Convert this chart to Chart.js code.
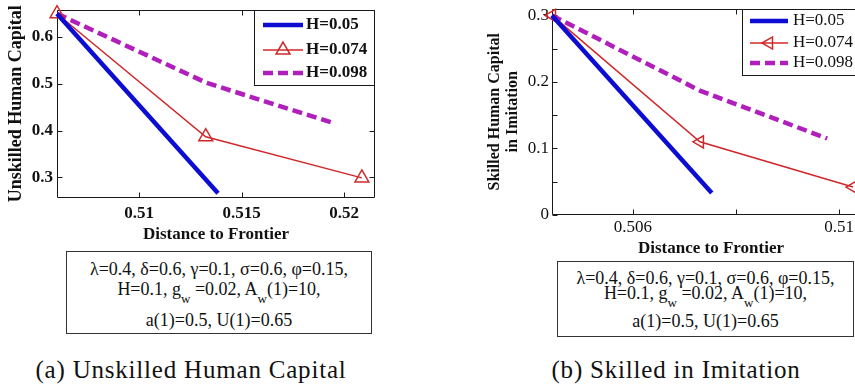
<!DOCTYPE html>
<html>
<head>
<meta charset="utf-8">
<script src="https://cdn.jsdelivr.net/npm/chart.js@4.4.1/dist/chart.umd.min.js"></script>
<style>
  html, body { margin: 0; padding: 0; background: #fff; }
  body { width: 855px; height: 389px; overflow: hidden; position: relative; font-family: 'Liberation Serif', 'Times New Roman', serif; color: #111; }
  canvas { position: absolute; top: 0; }
  #chartA { left: 0; }
  #chartB { left: 440px; }
  .params { position: absolute; box-sizing: border-box; border: 1px solid #333; background: #fff; }
  .params div { position: absolute; left: 0; right: 0; text-align: center; font-size: 18px; line-height: 20px; white-space: nowrap; }
  .sb { font-size: 13px; position: relative; top: 8px; }
  .caption { position: absolute; top: 355px; width: 400px; text-align: center; font-size: 25px; line-height: 30px; letter-spacing: 0.8px; white-space: nowrap; }
</style>
</head>
<body>
<canvas id="chartA" width="410" height="250"></canvas>
<canvas id="chartB" width="460" height="262"></canvas>

<div class="params" style="left:66px; top:251px; width:306px; height:83px;">
  <div style="top:7px;">λ=0.4, δ=0.6, γ=0.1, σ=0.6, φ=0.15,</div>
  <div style="top:27px;">H=0.1, g<span class="sb">w</span> =0.02, A<span class="sb">w</span>(1)=10,</div>
  <div style="top:58px;">a(1)=0.5, U(1)=0.65</div>
</div>
<div class="params" style="left:557px; top:261px; width:297px; height:76px;">
  <div style="top:6px;">λ=0.4, δ=0.6, γ=0.1, σ=0.6, φ=0.15,</div>
  <div style="top:21px;">H=0.1, g<span class="sb">w</span> =0.02, A<span class="sb">w</span>(1)=10,</div>
  <div style="top:49px;">a(1)=0.5, U(1)=0.65</div>
</div>

<div class="caption" style="left:-9px;">(a) Unskilled Human Capital</div>
<div class="caption" style="left:476px;">(b) Skilled in Imitation</div>

<script>
const seriesLabels = ["H=0.05", "H=0.074", "H=0.098"];

// (a) unskilled human capital vs distance to frontier
const unskilledX005 = [0.506, 0.51385];
const unskilledY005 = [0.65, 0.266];
const unskilledX074 = [0.506, 0.51325, 0.52086];
const unskilledY074 = [0.65, 0.387, 0.299];
const unskilledX098 = [0.506, 0.5133, 0.51956];
const unskilledY098 = [0.65, 0.502, 0.415];

// (b) skilled human capital in imitation
const imitX005 = [0.50443, 0.50753];
const imitY005 = [0.3, 0.033];
const imitX074 = [0.50443, 0.5073, 0.51027];
const imitY074 = [0.3, 0.11, 0.042];
const imitX098 = [0.50443, 0.5073, 0.50977];
const imitY098 = [0.3, 0.187, 0.115];

const xTicksA = [0.51, 0.515, 0.52];
const xTickLabelsA = ["0.51", "0.515", "0.52"];
const yTicksA = [0.3, 0.4, 0.5, 0.6];
const yTickLabelsA = ["0.3", "0.4", "0.5", "0.6"];

const xTicksB = [0.506, 0.508, 0.51];
const xTickLabelsB = ["0.506", "", "0.51"];
const yTicksB = [0, 0.05, 0.1, 0.15, 0.2, 0.25, 0.3];
const yTickLabelsB = ["0", "", "0.1", "", "0.2", "", "0.3"];

Chart.defaults.font.family = "'Liberation Serif', 'Times New Roman', serif";
Chart.defaults.color = "#111";

const BLUE = "#0c0cd2";
const RED = "#d0282a";
const PURPLE = "#b01ebc";

function zipXY(xs, ys) {
    return xs.map((x, i) => ({ x: x, y: ys[i] }));
}

function makeDatasets(xs, ys, redRotation, markerRadius) {
    return [
        {
            label: seriesLabels[0],
            data: zipXY(xs[0], ys[0]),
            borderColor: BLUE,
            borderWidth: 4.5,
            pointRadius: 0,
            clip: false,
        },
        {
            label: seriesLabels[1],
            data: zipXY(xs[1], ys[1]),
            borderColor: RED,
            borderWidth: 1.5,
            pointStyle: "triangle",
            pointRotation: redRotation,
            pointRadius: markerRadius,
            pointBorderWidth: 1.5,
            pointBorderColor: RED,
            pointBackgroundColor: "rgba(0,0,0,0)",
            clip: false,
        },
        {
            label: seriesLabels[2],
            data: zipXY(xs[2], ys[2]),
            borderColor: PURPLE,
            borderWidth: 4.5,
            borderDash: [10, 5],
            pointRadius: 0,
            clip: false,
        },
    ];
}

// box around the plot with short inward ticks on all four sides
const axesFrame = {
    id: "axesFrame",
    beforeDatasetsDraw(chart) {
        const { ctx, chartArea: a, scales: { x, y } } = chart;
        const L = Math.round(a.left) + 0.5;
        const R = Math.round(a.right) - 0.5;
        const T = Math.round(a.top) + 0.5;
        const B = Math.round(a.bottom) - 0.5;
        ctx.save();
        ctx.strokeStyle = "#1a1a1a";
        ctx.lineWidth = 1;
        ctx.beginPath();
        ctx.rect(L, T, R - L, B - T);
        x.ticks.forEach((t) => {
            const px = Math.round(x.getPixelForValue(t.value)) + 0.5;
            ctx.moveTo(px, B);
            ctx.lineTo(px, B - 5);
            ctx.moveTo(px, T);
            ctx.lineTo(px, T + 5);
        });
        y.ticks.forEach((t) => {
            const py = Math.round(y.getPixelForValue(t.value)) + 0.5;
            ctx.moveTo(L, py);
            ctx.lineTo(L + 5, py);
            ctx.moveTo(R, py);
            ctx.lineTo(R - 5, py);
        });
        ctx.stroke();
        ctx.restore();
    },
};

// framed legend in the top right corner of the plot
const boxLegend = {
    id: "boxLegend",
    afterDatasetsDraw(chart, args, opts) {
        const { ctx, chartArea } = chart;
        const bx = Math.round(chartArea.right - opts.width);
        const by = Math.round(chartArea.top);
        ctx.save();
        ctx.fillStyle = "#fff";
        ctx.fillRect(bx, by, opts.width, opts.height);
        ctx.strokeStyle = "#1a1a1a";
        ctx.lineWidth = 1;
        ctx.strokeRect(bx + 0.5, by + 0.5, opts.width - 1, opts.height);
        chart.data.datasets.forEach((ds, i) => {
            const ry = by + opts.rows[i];
            const x0 = bx + opts.sampleLeft;
            const x1 = x0 + opts.sampleWidth;
            ctx.strokeStyle = ds.borderColor;
            ctx.lineWidth = ds.borderWidth;
            ctx.setLineDash(ds.borderDash || []);
            ctx.beginPath();
            ctx.moveTo(x0, ry);
            ctx.lineTo(x1, ry);
            ctx.stroke();
            ctx.setLineDash([]);
            if (ds.pointRadius > 0) {
                ctx.fillStyle = "rgba(0,0,0,0)";
                ctx.strokeStyle = ds.pointBorderColor;
                ctx.lineWidth = ds.pointBorderWidth;
                Chart.helpers.drawPoint(ctx, {
                    pointStyle: ds.pointStyle,
                    rotation: ds.pointRotation,
                    radius: ds.pointRadius,
                    borderWidth: ds.pointBorderWidth,
                }, (x0 + x1) / 2, ry);
            }
            ctx.fillStyle = "#111";
            ctx.font = opts.font;
            ctx.textBaseline = "middle";
            ctx.textAlign = "left";
            ctx.fillText(ds.label, bx + opts.textLeft, ry);
        });
        ctx.restore();
    },
};

function tickSetter(values) {
    return (scale) => {
        scale.ticks = values.map((v) => ({ value: v }));
    };
}

// fixed scale box sizes, and no extra room for overhanging tick labels,
// so the plot area sits exactly inside the layout padding
function fixHeight(h) {
    return (s) => {
        s.height = h;
        s.paddingLeft = 0;
        s.paddingRight = 0;
        s.paddingTop = 0;
        s.paddingBottom = 0;
    };
}
function fixWidth(w) {
    return (s) => {
        s.width = w;
        s.paddingLeft = 0;
        s.paddingRight = 0;
        s.paddingTop = 0;
        s.paddingBottom = 0;
    };
}

const chartA = new Chart(document.getElementById("chartA"), {
    type: "line",
    data: {
        datasets: makeDatasets(
            [unskilledX005, unskilledX074, unskilledX098],
            [unskilledY005, unskilledY074, unskilledY098],
            0, 8
        ),
    },
    options: {
        responsive: false,
        animation: false,
        layout: { padding: { left: 0, top: 6, right: 35, bottom: 0 } },
        plugins: {
            legend: { display: false },
            tooltip: { enabled: false },
            boxLegend: {
                width: 121, height: 75, rows: [15, 40, 63],
                sampleLeft: 9, sampleWidth: 40, textLeft: 52,
                font: "bold 17px 'Liberation Serif'",
            },
        },
        scales: {
            x: {
                type: "linear",
                min: 0.506,
                max: 0.5215,
                grid: { display: false, drawTicks: false },
                border: { display: false },
                afterBuildTicks: tickSetter(xTicksA),
                afterFit: fixHeight(52),
                ticks: {
                    autoSkip: false, maxRotation: 0, padding: 5,
                    font: { size: 17, weight: "bold" },
                    callback: (v, i) => xTickLabelsA[i],
                },
                title: {
                    display: true, text: "Distance to Frontier",
                    font: { size: 17, weight: "bold", lineHeight: 1.2 },
                    padding: { top: 0, bottom: 5 },
                },
            },
            y: {
                type: "linear",
                min: 0.256,
                max: 0.659,
                grid: { display: false, drawTicks: false },
                border: { display: false },
                afterBuildTicks: tickSetter(yTicksA),
                afterFit: fixWidth(57),
                ticks: {
                    autoSkip: false, padding: 4,
                    font: { size: 17, weight: "bold" },
                    callback: (v, i) => yTickLabelsA[i],
                },
                title: {
                    display: true, text: "Unskilled Human Capital",
                    font: { size: 18, weight: "bold", lineHeight: 1.2 },
                    padding: { top: 6, bottom: 0 },
                },
            },
        },
    },
    plugins: [axesFrame, boxLegend],
});

const chartB = new Chart(document.getElementById("chartB"), {
    type: "line",
    data: {
        datasets: makeDatasets(
            [imitX005, imitX074, imitX098],
            [imitY005, imitY074, imitY098],
            -90, 7
        ),
    },
    options: {
        responsive: false,
        animation: false,
        layout: { padding: { left: 0, top: 7, right: 30, bottom: 0 } },
        plugins: {
            legend: { display: false },
            tooltip: { enabled: false },
            boxLegend: {
                width: 128, height: 66, rows: [12, 34, 54],
                sampleLeft: 8, sampleWidth: 38, textLeft: 51,
                font: "17px 'Liberation Serif'",
            },
        },
        scales: {
            x: {
                type: "linear",
                min: 0.50443,
                max: 0.5106,
                grid: { display: false, drawTicks: false },
                border: { display: false },
                afterBuildTicks: tickSetter(xTicksB),
                afterFit: fixHeight(47),
                ticks: {
                    autoSkip: false, maxRotation: 0, padding: 2,
                    font: { size: 17 },
                    callback: (v, i) => xTickLabelsB[i],
                },
                title: {
                    display: true, text: "Distance to Frontier",
                    font: { size: 17, weight: "bold", lineHeight: 1.2 },
                    padding: { top: 0, bottom: 3 },
                },
            },
            y: {
                type: "linear",
                min: 0,
                max: 0.3104,
                grid: { display: false, drawTicks: false },
                border: { display: false },
                afterBuildTicks: tickSetter(yTicksB),
                afterFit: fixWidth(112),
                ticks: {
                    autoSkip: false, padding: 3,
                    font: { size: 17 },
                    callback: (v, i) => yTickLabelsB[i],
                },
                title: {
                    display: true, text: ["Skilled Human Capital", "in Imitation"],
                    font: { size: 16, weight: "bold", lineHeight: "18px" },
                    padding: { top: 46, bottom: 0 },
                },
            },
        },
    },
    plugins: [axesFrame, boxLegend],
});
</script>
</body>
</html>
